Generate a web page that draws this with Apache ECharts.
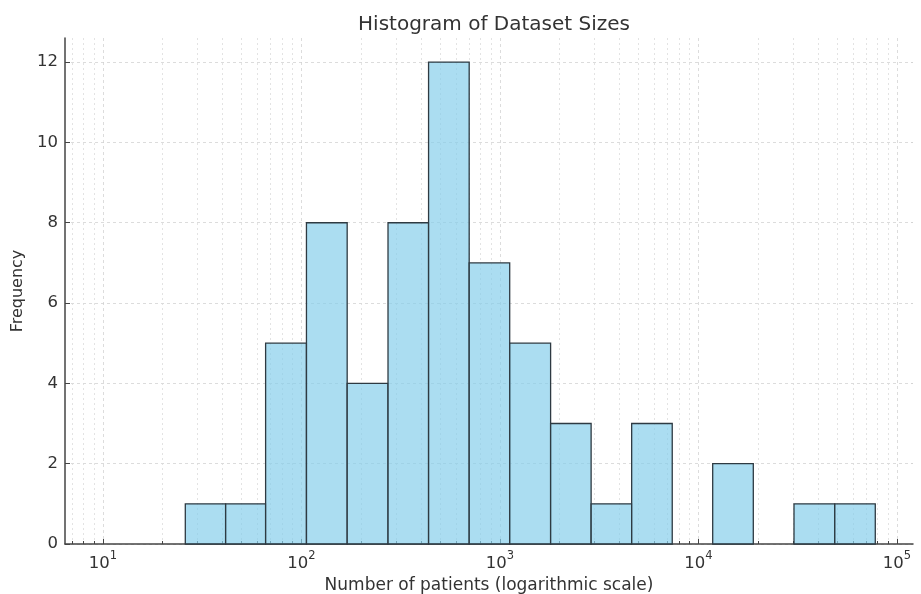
<!DOCTYPE html>
<html>
<head>
<meta charset="utf-8">
<title>Histogram of Dataset Sizes</title>
<script src="https://cdn.jsdelivr.net/npm/echarts@6/dist/echarts.min.js"></script>
<style>
  html, body { margin: 0; padding: 0; background: #fff; }
  #chart { width: 921px; height: 594px; }
</style>
</head>
<body>
<div id="chart"></div>
<script>
// bin edges (number of patients)
const binEdges = [26, 41.5, 66, 106, 170, 273, 437, 700, 1120, 1800, 2880, 4610, 7380, 11800, 18900, 30300, 48600, 77800]
// frequency per bin
const counts = [1, 1, 5, 8, 4, 8, 12, 7, 5, 3, 1, 3, 0, 2, 0, 1, 1]
// axis ticks
const majorTicks = [10, 100, 1000, 10000, 100000]
const yTicks = [0, 2, 4, 6, 8, 10, 12]

let minorTicks = []
for (let p = 0; p <= 5; p++) {
  for (let m = 2; m <= 9; m++) {
    let v = m * Math.pow(10, p)
    if (v > 6.4 && v < 120000) minorTicks.push(v)
  }
}

let bins = counts.map((c, i) => [binEdges[i], binEdges[i + 1], c])

let chart = echarts.init(document.getElementById('chart'))
let font = 'DejaVu Sans'
let gridLine = { show: true, lineStyle: { color: '#d4d4d4', width: 0.8, type: [3, 3] } }

let option = {
  animation: false,
  textStyle: { fontFamily: font },
  title: {
    text: 'Histogram of Dataset Sizes',
    left: 489,
    textAlign: 'center',
    top: 10,
    textStyle: { fontFamily: font, fontSize: 20, fontWeight: 'normal', color: '#333' }
  },
  grid: { left: 65, right: 8, top: 38, bottom: 50, containLabel: false, outerBoundsMode: 'none' },
  xAxis: [
    {
      type: 'log',
      min: 6.44,
      max: 120500,
      name: 'Number of patients (logarithmic scale)',
      nameLocation: 'middle',
      nameGap: 26,
      nameTextStyle: { fontFamily: font, fontSize: 17, color: '#333' },
      axisLine: { show: true, lineStyle: { color: '#444', width: 1.5 } },
      axisTick: { show: true, inside: true, length: 5, customValues: majorTicks, lineStyle: { color: '#444' } },
      axisLabel: {
        customValues: majorTicks,
        margin: 6,
        color: '#333',
        formatter: function (v) {
          let e = Math.round(Math.log10(v))
          return '{b|10}{s|' + e + '}'
        },
        rich: {
          b: { fontFamily: font, fontSize: 16.5, color: '#333', verticalAlign: 'bottom', lineHeight: 22 },
          s: { fontFamily: font, fontSize: 11.5, color: '#333', verticalAlign: 'top', lineHeight: 22 }
        }
      },
      splitLine: gridLine
    },
    {
      type: 'log',
      min: 6.44,
      max: 120500,
      position: 'bottom',
      axisLine: { show: false },
      axisTick: { show: true, inside: true, length: 3, customValues: minorTicks, lineStyle: { color: '#444' } },
      axisLabel: { show: false },
      splitLine: { show: true, lineStyle: { color: '#dcdcdc', width: 0.8, type: [2, 3] } }
    }
  ],
  yAxis: {
    type: 'value',
    min: 0,
    max: 12.6,
    name: 'Frequency',
    nameLocation: 'middle',
    nameGap: 33,
    nameTextStyle: { fontFamily: font, fontSize: 16, color: '#333' },
    axisLine: { show: true, lineStyle: { color: '#444', width: 1.5 } },
    axisTick: { show: true, inside: true, length: 5, customValues: yTicks, lineStyle: { color: '#444' } },
    axisLabel: { customValues: yTicks, fontFamily: font, fontSize: 16.5, color: '#333', margin: 7 },
    splitLine: gridLine
  },
  series: [
    {
      type: 'custom',
      xAxisIndex: 0,
      data: bins,
      encode: { x: [0, 1], y: 2 },
      renderItem: function (params, api) {
        let h = api.value(2)
        if (!h) return
        let p0 = api.coord([api.value(0), h])
        let p1 = api.coord([api.value(1), 0])
        return {
          type: 'rect',
          shape: { x: p0[0], y: p0[1], width: p1[0] - p0[0], height: p1[1] - p0[1] },
          style: { fill: 'rgba(135,206,235,0.7)', stroke: '#2e3a42', lineWidth: 1.3 }
        }
      }
    }
  ]
}

chart.setOption(option)
</script>
</body>
</html>
